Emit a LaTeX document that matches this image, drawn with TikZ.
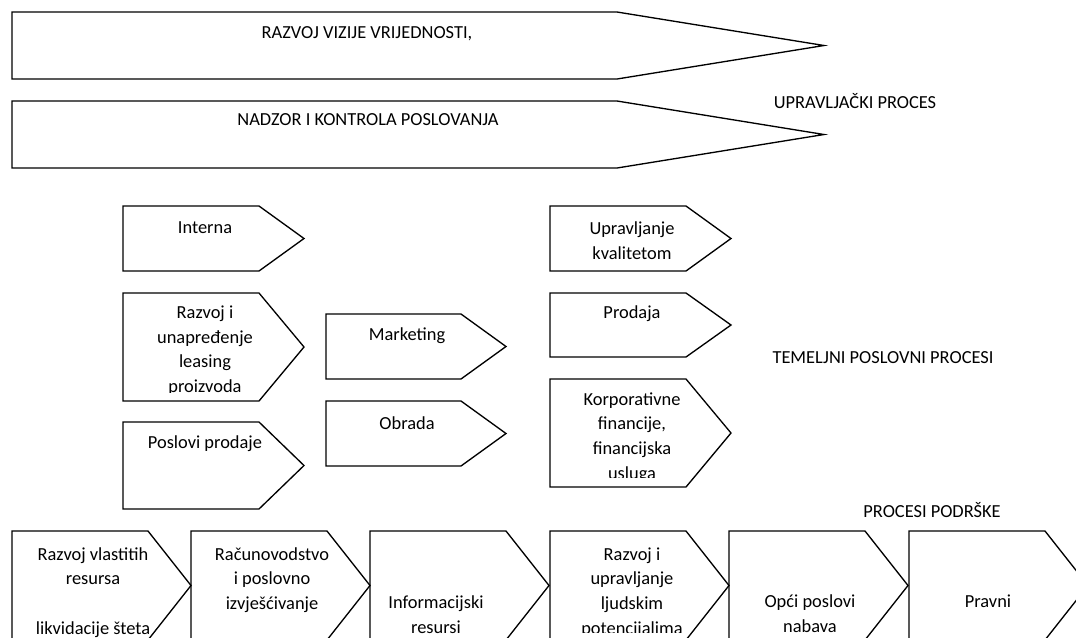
\documentclass[tikz,border=0pt]{standalone}
\usepackage{fontspec}
\setmainfont{Carlito}
\usepackage{tikz}
\usetikzlibrary{positioning}
\tikzstyle{procline} = [draw=black, line width=1pt, line join=miter]
\tikzstyle{proctext} = [font=\fontsize{13.8}{18.5}\selectfont, align=center, inner sep=0pt]
% pointed process box: name, left x, top y, body width, height, tip length
\newcommand{\procbox}[6]{%
  \draw[procline] (#2,#3) -- ++(#4,0) -- ++(#6,#5/2) -- ++(-#6,#5/2) -- ++(-#4,0) -- cycle;
  \coordinate (#1) at (#2,#3);
}

\begin{document}
\begin{tikzpicture}[x=0.75pt, y=-0.75pt]
\useasboundingbox (0,0) rectangle (1076,637);
\clip (0,0) rectangle (1076,637);

% upravljacki proces
\procbox{vizija}{12}{12}{605}{67}{207}
\procbox{nadzor}{12}{101}{605}{67}{207}
\node[proctext] (vizija-t) at (367,34) {RAZVOJ VIZIJE VRIJEDNOSTI,};
\node[proctext] (nadzor-t) at (368,120) {NADZOR I KONTROLA POSLOVANJA};
\node[proctext] (upravljacki) at (855,101) {UPRAVLJAČKI PROCES};

% temeljni poslovni procesi
\procbox{interna}{123}{206}{136}{65}{45}
\procbox{razvoj}{123}{293}{136}{108}{45}
\procbox{poslovi}{123}{422}{136}{87}{45}
\procbox{marketing}{326}{314}{135}{65}{45}
\procbox{obrada}{326}{401}{135}{65}{45}
\procbox{kvaliteta}{550}{206}{136}{65}{45}
\procbox{prodaja}{550}{293}{136}{64}{45}
\procbox{korporativne}{550}{379}{136}{108}{45}

\node[proctext] (interna-t) at (205,228) {Interna};
\begin{scope}
\clip (123,293) rectangle (260,392);
\node[proctext] (razvoj-t) at (205,350.5) {Razvoj i\\unapređenje\\leasing\\proizvoda};
\end{scope}
\node[proctext] (poslovi-t) at (205,444) {Poslovi prodaje};
\node[proctext] (marketing-t) at (407,336) {Marketing};
\node[proctext] (obrada-t) at (407,423) {Obrada};
\node[proctext] (kvaliteta-t) at (632,240.5) {Upravljanje\\kvalitetom};
\node[proctext] (prodaja-t) at (632,314) {Prodaja};
\begin{scope}
\clip (550,379) rectangle (687,477);
\node[proctext] (korporativne-t) at (632,437.5) {Korporativne\\financije,\\financijska\\usluga};
\end{scope}
\node[proctext] (temeljni) at (883,358) {TEMELJNI POSLOVNI PROCESI};

% procesi podrske
\node[proctext] (podrska) at (932,510.5) {PROCESI PODRŠKE};
\foreach \n/\x in {vlastiti/12, racunovodstvo/191, informacijski/370, ljudski/550, opci/729, pravni/909}
  \procbox{\n}{\x}{531}{136}{109}{43};

\node[proctext] (vlastiti-t) at (93,592.5) {Razvoj vlastitih\\resursa\\[18.5pt]likvidacije šteta};
\node[proctext] (racunovodstvo-t) at (272,580) {Računovodstvo\\i poslovno\\izvješćivanje};
\node[proctext] (informacijski-t) at (436,615) {Informacijski\\resursi};
\begin{scope}
\clip (550,531) rectangle (687,632);
\node[proctext] (ljudski-t) at (632,592.5) {Razvoj i\\upravljanje\\ljudskim\\potencijalima};
\end{scope}
\node[proctext] (opci-t) at (810,614) {Opći poslovi\\nabava};
\node[proctext] (pravni-t) at (988,601) {Pravni};
\end{tikzpicture}
\end{document}
